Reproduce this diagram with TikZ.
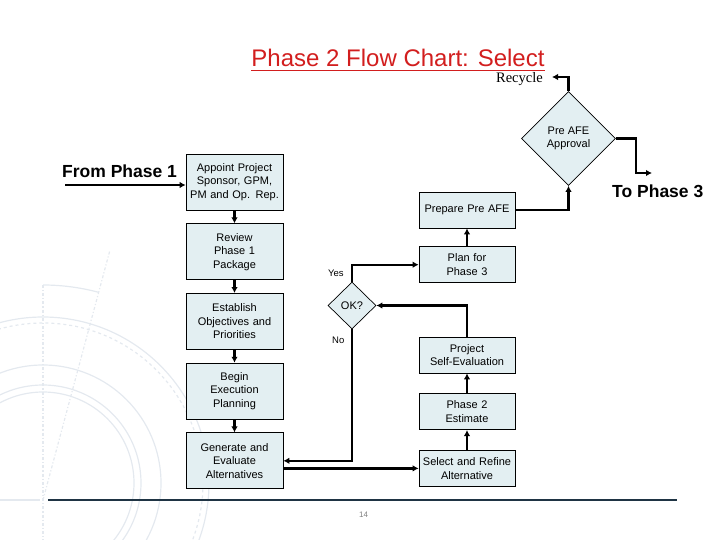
\documentclass[tikz,border=0pt]{standalone}
\usepackage{fontspec}
\setmainfont{Liberation Sans}
\newfontfamily\recyfont{Liberation Serif}
\usetikzlibrary{shapes.geometric, arrows.meta, positioning}
\definecolor{boxfill}{RGB}{227,239,242}
\definecolor{titlered}{RGB}{210,30,30}
\definecolor{rulenavy}{RGB}{31,52,68}
\definecolor{wmark}{RGB}{228,233,239}
\tikzset{
  stepbox/.style = {
    rectangle, draw=black, line width=0.7pt, fill=boxfill,
    minimum width=97pt, minimum height=56pt,
    text width=92pt, align=center, inner sep=2pt,
    font=\fontsize{11}{13.5}\selectfont
  },
  rstep/.style = {
    stepbox, minimum width=96pt, minimum height=36pt,
    text width=91pt
  },
  decbox/.style = {
    diamond, draw=black, line width=0.7pt, fill=boxfill,
    inner sep=0pt, align=center,
    font=\fontsize{11}{13}\selectfont
  },
  arr/.style = {-{Latex[length=6pt,width=6.5pt]}, line width=2.4pt}
}

\begin{document}
\begin{tikzpicture}[
  x=1pt, y=-1pt,
  lbl/.style={inner sep=0pt, font=\fontsize{9.5}{11}\selectfont},
  bigtxt/.style={inner sep=0pt, font=\bfseries\fontsize{17.5}{20}\selectfont}
]
\useasboundingbox (0,0) rectangle (720,540);

%% faint drawing in the background
\begin{scope}[color=wmark, line width=1.2pt]
  \clip (0,0) rectangle (720,540);
  \draw (43,483) circle (166pt);
  \draw[dashed] (43,483) circle (160pt);
  \draw (43,483) circle (118pt);
  \draw (43,483) circle (98pt);
  \draw (43,483) circle (91pt);
  \draw[dash dot] (43,285) -- (43,540);
  \draw[dash dot] (43,500) -- (110,250);
  \draw (43,285) arc[start angle=90, end angle=75, radius=215pt];
  \draw (0,500) -- (40,500);
\end{scope}

%% Title
\node[inner sep=0pt, text=titlered, anchor=base,
      font=\fontsize{24}{28}\selectfont] (title) at (398,66.5)
      {Phase 2 Flow Chart: Select};
\draw[titlered, line width=1.8pt]
  ([yshift=-4pt]title.base west) -- ([yshift=-4pt]title.base east);
\node[inner sep=0pt, anchor=base east,
      font=\recyfont\fontsize{14.5}{16}\selectfont] (recy) at (543,82.5) {Recycle};

%% Side texts
\node[bigtxt, anchor=base west] (from1) at (62,177.5) {From Phase 1};
\node[bigtxt, anchor=base west] (to3)   at (612,197.5) {To Phase 3};

%% Left column
\node[stepbox] (appt) at (234.5,182) {Appoint Project\\Sponsor, GPM,\\PM and Op. Rep.};
\node[stepbox, below=13pt of appt] (rev) {Review\\Phase 1\\Package};
\node[stepbox, below=13pt of rev]  (est) {Establish\\Objectives and\\Priorities};
\node[stepbox, below=13pt of est]  (beg) {Begin\\Execution\\Planning};
\node[stepbox, below=13pt of beg]  (gen) {Generate and\\Evaluate\\Alternatives};

%% Right column
\node[rstep] (prep) at (467,210) {Prepare Pre AFE};
\node[rstep, below=18pt of prep]  (plan)  {Plan for\\Phase 3};
\node[rstep] (self) at (467,355) {Project\\Self-Evaluation};
\node[rstep, below=20pt of self]  (p2est) {Phase 2\\Estimate};
\node[rstep, below=20pt of p2est] (sel)   {Select and Refine\\Alternative};

%% Decisions
\node[decbox, minimum width=94pt, minimum height=94pt] (afe) at (568.5,138.5) {Pre AFE\\Approval};
\node[decbox, minimum width=48pt, minimum height=47pt] (okq) at (352,305.5) {OK?};
\node[lbl, anchor=base west] (yes) at (328,276) {Yes};
\node[lbl, anchor=base west] (no)  at (332,343.5) {No};

%% Free ends
\coordinate (p1in)    at (65,185);
\coordinate (recyend) at (552,77);
\coordinate (to3end)  at (652,173);

%% Left column arrows
\draw[arr] (p1in)--(p1in -| appt.west);
\draw[arr] (appt)--(rev);
\draw[arr] (rev)--(est);
\draw[arr] (est)--(beg);
\draw[arr] (beg)--(gen);
\draw[arr] (gen.east |- sel.west)--(sel.west);

%% Right column arrows
\draw[arr] (sel)--(p2est);
\draw[arr] (p2est)--(self);
\draw[arr] (self.north) |- (okq.east);
\draw[arr] (okq.north) |- (plan.west);
\draw[arr] (okq.south) |- (gen.east);
\draw[arr] (plan)--(prep);
\draw[arr] (prep.east) -| (afe.south);
\draw[arr] (afe.north) |- (recyend);
\draw[arr] (afe.east)--++(20,0) |- (to3end);

%% Footer
\draw[rulenavy, line width=1.2pt] (48,500)--(677,500);
\node[lbl, text=gray, anchor=base, font=\fontsize{8}{10}\selectfont] (pgno) at (363.5,517.5) {14};

\end{tikzpicture}
\end{document}
